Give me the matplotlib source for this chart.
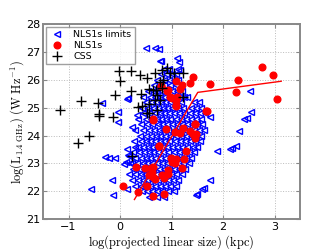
import numpy as np
import matplotlib
matplotlib.use('Agg')
import matplotlib.pyplot as plt

plt.rcParams['mathtext.fontset'] = 'cm'

# NLS1s limits (blue open triangles): scattered outliers
lim_x = [0.5, 0.67, 0.79, 0.75, 0.78, 1.1, 1.15, 1.17, 2.52, 2.54, 2.46, 2.41, 2.32,
         1.75, 1.88, 2.14, 2.26, 2.18, 1.75, 1.63, 1.59, 1.48, 1.49,
         -0.22, -0.09, 0.14, 0.17, 0.07, 0.23, -0.15, -0.56, -0.13, 0.14,
         -0.04, -0.30, 0.12, 0.15, 0.30, 0.14, -0.35, -0.04, 0.33, 0.16, 0.23, 1.3]
lim_y = [27.16, 27.16, 26.68, 27.11, 26.69, 26.8, 26.65, 26.36, 25.6, 24.86, 24.62, 24.58, 24.17,
         24.65, 23.44, 23.51, 23.62, 23.54, 22.39, 22.12, 22.06, 21.85, 21.88,
         23.2, 23.2, 23.53, 23.26, 22.96, 23.0, 22.4, 22.07, 21.85, 22.07,
         24.5, 23.24, 23.04, 23.3, 23.6, 25.31, 25.16, 24.83, 24.74, 25.35, 24.3, 25.4]

# NLS1s limits: dense wedge, one row per y value
wedge_rows = {
    26.4: [0.85, 0.95, 1.12],
    26.2: [0.8, 0.9, 1.0, 1.08],
    26.0: [0.72, 0.85, 0.95, 1.05, 1.13],
    25.8: [0.66, 0.76, 0.86, 0.97, 1.08],
    25.6: [0.55, 0.64, 0.72, 0.8, 0.9, 1.0, 1.1, 1.2],
    25.4: [0.45, 0.58, 0.68, 0.77, 0.86, 0.95, 1.04, 1.15, 1.25],
    25.2: [0.5, 0.6, 0.7, 0.79, 0.88, 0.97, 1.06, 1.18, 1.44, 1.54],
    25.0: [0.42, 0.54, 0.64, 0.73, 0.83, 0.92, 1.01, 1.12, 1.22, 1.38, 1.48, 1.58],
    24.8: [0.45, 0.57, 0.67, 0.77, 0.86, 0.95, 1.04, 1.14, 1.24, 1.36, 1.46, 1.56, 1.65],
    24.6: [0.35, 0.5, 0.61, 0.71, 0.8, 0.89, 0.98, 1.08, 1.18, 1.28, 1.38, 1.48, 1.58],
    24.4: [0.4, 0.52, 0.63, 0.73, 0.82, 0.91, 1.0, 1.1, 1.2, 1.3, 1.4, 1.5, 1.6],
    24.2: [0.3, 0.45, 0.56, 0.66, 0.75, 0.84, 0.94, 1.04, 1.14, 1.24, 1.34, 1.44, 1.54, 1.63],
    24.0: [0.38, 0.5, 0.6, 0.69, 0.78, 0.88, 0.98, 1.08, 1.18, 1.28, 1.38, 1.48, 1.58],
    23.8: [0.28, 0.4, 0.5, 0.59, 0.68, 0.77, 0.86, 0.96, 1.06, 1.16, 1.26, 1.36, 1.46, 1.55],
    23.6: [0.35, 0.45, 0.54, 0.63, 0.72, 0.81, 0.91, 1.01, 1.11, 1.21, 1.31, 1.41, 1.5],
    23.4: [0.26, 0.37, 0.47, 0.56, 0.65, 0.74, 0.84, 0.94, 1.04, 1.14, 1.24, 1.34, 1.44],
    23.2: [0.3, 0.41, 0.5, 0.59, 0.68, 0.78, 0.88, 0.98, 1.08, 1.18, 1.28, 1.38],
    23.0: [0.2, 0.33, 0.44, 0.53, 0.62, 0.72, 0.82, 0.92, 1.02, 1.12, 1.22, 1.33],
    22.8: [0.25, 0.36, 0.46, 0.55, 0.65, 0.75, 0.85, 0.95, 1.05, 1.15, 1.26],
    22.6: [0.18, 0.3, 0.4, 0.49, 0.59, 0.69, 0.79, 0.89, 0.99, 1.09, 1.2],
    22.4: [0.24, 0.34, 0.44, 0.53, 0.63, 0.73, 0.83, 0.93, 1.03, 1.13],
    22.2: [0.3, 0.4, 0.49, 0.58, 0.68, 0.78, 0.88, 0.98, 1.08],
    22.0: [0.42, 0.52, 0.62, 0.72, 0.82, 0.94, 1.05],
    21.8: [0.57, 0.72, 0.86],
}

# NLS1s detections (red filled circles)
nls_x = [2.75, 2.97, 2.29, 1.74, 1.41, 1.36, 2.26, 3.04, 1.08, 1.21, 1.16, 0.93, 1.11, 1.0,
         1.08, 1.08, 1.68, 1.46, 0.8, 0.64, 0.31, 0.48, 0.61, 0.57, 0.68, 0.52, 0.05, 0.34,
         0.65, 0.86, 0.76, 0.64, 1.09, 0.9, 1.07, 1.17, 1.23, 1.35, 1.41, 1.48, 1.45, 1.46,
         1.66, 0.76, 1.28, 0.99, 1.09, 1.25, 1.01, 1.06, 1.21, 0.64, 0.93, 0.62, 0.81, 0.94,
         0.85, 0.65, 0.92, 0.97, 0.79]
nls_y = [26.47, 26.16, 26.0, 25.84, 26.12, 25.9, 25.58, 25.3, 25.96, 25.82, 25.66, 25.64, 25.37, 25.34,
         25.28, 25.06, 24.89, 24.41, 25.78, 24.58, 22.88, 22.82, 22.84, 22.58, 22.42, 22.2, 22.17, 21.97,
         21.82, 21.9, 23.62, 24.56, 25.1, 24.22, 24.14, 24.08, 24.26, 24.16, 24.04, 24.04, 23.9, 24.4,
         24.88, 23.63, 23.45, 23.18, 23.14, 23.14, 23.06, 23.0, 22.84, 22.88, 22.76, 22.7, 22.58, 22.6,
         22.46, 22.52, 25.61, 25.37, 25.79]

# CSS (black plus)
css_x = [-0.01, 0.22, 0.38, 0.52, 0.67, 0.81, 0.0, -0.1, 0.21, 0.40, 0.56, 0.70, 0.83, -0.75,
         -0.43, -0.40, -0.13, -1.17, 0.35, 0.57, 0.67, 0.78, 0.56, 0.72, -0.82, -0.6, 0.23,
         -0.4, 0.43, 0.52, 0.91, 1.04, 1.23, 0.78, 0.65, 0.81, 1.23, 0.72, 0.98]
css_y = [26.32, 26.32, 26.18, 26.06, 26.26, 26.36, 25.95, 25.47, 25.61, 25.48, 25.66, 25.64, 26.0, 25.25,
         25.16, 24.77, 24.68, 24.92, 25.01, 25.12, 25.28, 25.28, 24.8, 24.92, 23.72, 23.97, 23.26,
         24.70, 25.06, 24.8, 26.42, 26.24, 26.24, 25.94, 25.64, 25.7, 25.4, 25.46, 26.24]

# red line
line_x = [0.28, 1.51, 3.13]
line_y = [21.7, 25.55, 25.95]

wx = [x for y, xs in wedge_rows.items() for x in xs]
wy = [y for y, xs in wedge_rows.items() for x in xs]
all_lim_x = lim_x + wx
all_lim_y = lim_y + wy

fig = plt.figure(figsize=(3.34, 2.52), dpi=100)
ax = fig.add_axes([0.128, 0.131, 0.771, 0.773])

ax.plot(all_lim_x, all_lim_y, '<', ms=4.5, mfc='none', mec='blue', mew=1.0,
        label='NLS1s limits', zorder=3)
ax.plot(nls_x, nls_y, 'o', ms=4.8, mfc='red', mec='red', label='NLS1s', zorder=4)
ax.plot(css_x, css_y, '+', ms=6.5, mec='black', mew=1.0, label='CSS', zorder=5)
ax.plot(line_x, line_y, '-', color='red', lw=1.0, zorder=6)

ax.set_xlim(-1.5, 3.5)
ax.set_ylim(21, 28)
ax.set_xticks([-1, 0, 1, 2, 3])
ax.set_yticks(range(21, 29))
ax.grid(True, ls=':', color='#bbbbbb', lw=0.7)
for s in ax.spines.values():
    s.set_color('#888888')
    s.set_linewidth(1.4)
ax.tick_params(direction='in', top=True, right=True, labelsize=8, color='#888888',
               length=3, pad=2)

ax.set_xlabel(r'$\log(\mathrm{projected\ linear\ size})\ (\mathrm{kpc})$', fontsize=9, labelpad=1)
ax.set_ylabel(r'$\log(\mathrm{L}_{1.4\ \mathrm{GHz}})\ (\mathrm{W\ Hz^{-1}})$', fontsize=9, labelpad=0)

leg = ax.legend(loc='upper left', fontsize=6.8, frameon=True, fancybox=False,
                borderpad=0.35, labelspacing=0.2, handletextpad=0.8, borderaxespad=0.3,
                handlelength=1.8)
leg.get_frame().set_edgecolor('#888888')
leg.get_frame().set_linewidth(1.0)

fig.savefig('out.png', dpi=100)
